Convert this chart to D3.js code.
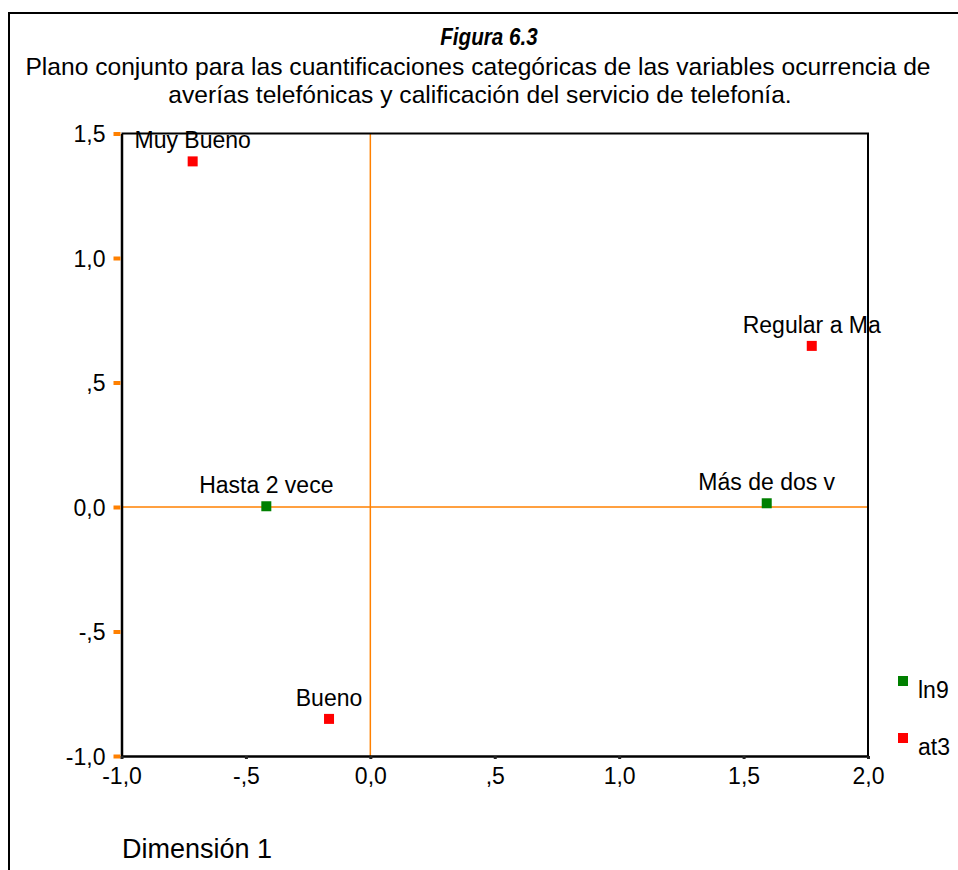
<!DOCTYPE html>
<html><head><meta charset="utf-8">
<script src="https://cdn.jsdelivr.net/npm/d3@7"></script>
<style>body{margin:0;background:#fff}svg{display:block}text{font-family:"Liberation Sans",Arial,sans-serif;fill:#000}</style>
</head><body>
<svg id="c" width="958" height="870"></svg>
<script>
const labels = ["Muy Bueno","Bueno","Regular a Ma","Hasta 2 vece","Más de dos v"];
const dim1 = [-0.714,-0.166,1.774,-0.418,1.593];
const dim2 = [1.388,-0.851,0.647,0.003,0.015];
const series = ["at3","at3","at3","ln9","ln9"];
const legendItems = ["ln9","at3"];
const xTicks = [-1.0,-0.5,0.0,0.5,1.0,1.5,2.0];
const yTicks = [-1.0,-0.5,0.0,0.5,1.0,1.5];
const colors = {ln9:"#008000", at3:"#ff0000"};

const svg = d3.select("#c");
const L=121.5, R=868, T=133.5, B=756;
const x = d3.scaleLinear().domain([-1,2]).range([L,R]);
const y = d3.scaleLinear().domain([-1,1.5]).range([B,T]);
const fmt = v => { let s = d3.format(".1f")(v).replace("\u2212","-").replace(".",","); if (s==="0,5") s=",5"; if (s==="-0,5") s="-,5"; return s; };
const FF = "Liberation Sans, Arial, sans-serif";

// outer frame
svg.append("rect").attr("x",9).attr("y",13).attr("width",1000).attr("height",1000).attr("fill","none").attr("stroke","#000").attr("stroke-width",2);

// titles
svg.append("text").attr("transform","translate(489,45) scale(0.86,1)").attr("text-anchor","middle").attr("font-size",24).attr("font-weight","bold").attr("font-style","italic").text("Figura 6.3");
svg.append("text").attr("x",478).attr("y",75).attr("text-anchor","middle").attr("font-size",24.6).text("Plano conjunto para las cuantificaciones categóricas de las variables ocurrencia de");
svg.append("text").attr("x",480).attr("y",103).attr("text-anchor","middle").attr("font-size",24.6).text("averías telefónicas y calificación del servicio de telefonía.");

// reference lines
svg.append("line").attr("x1",x(0)).attr("x2",x(0)).attr("y1",T).attr("y2",B).attr("stroke","#ff8000").attr("stroke-width",1.5);
svg.append("line").attr("x1",L).attr("x2",R).attr("y1",y(0)).attr("y2",y(0)).attr("stroke","#ff8000").attr("stroke-width",1.5);

// box top/right
svg.append("path").attr("d",`M${L},${T}H${R}V${B}`).attr("fill","none").attr("stroke","#000").attr("stroke-width",2);

// y axis
const yAxis = d3.axisLeft(y).tickValues(yTicks).tickFormat(fmt).tickSize(0).tickPadding(16);
const gy = svg.append("g").attr("transform",`translate(${L},0)`).call(yAxis);
gy.select(".domain").attr("stroke","#000").attr("stroke-width",2.5);
gy.selectAll("text").attr("font-size",23).attr("dy","0.35em").style("font-family",FF);
gy.selectAll(".tick").append("rect").attr("x",-8).attr("y",-2).attr("width",7).attr("height",4).attr("fill","#ff8000");

// x axis
const xAxis = d3.axisBottom(x).tickValues(xTicks).tickFormat(fmt).tickSize(0).tickPadding(12);
const gx = svg.append("g").attr("transform",`translate(0,${B})`).call(xAxis);
gx.select(".domain").attr("stroke","#000").attr("stroke-width",2.5);
gx.selectAll("text").attr("font-size",23).attr("dy","0.71em").style("font-family",FF);
gx.selectAll(".tick").append("rect").attr("x",-1.5).attr("y",0).attr("width",3).attr("height",3).attr("fill","#222");

// points
const pts = labels.map((l,i)=>({l, x:dim1[i], y:dim2[i], s:series[i]}));
svg.selectAll("rect.pt").data(pts).join("rect").attr("class","pt")
  .attr("x",d=>x(d.x)-5).attr("y",d=>y(d.y)-5).attr("width",10).attr("height",10)
  .attr("fill",d=>colors[d.s]);
svg.selectAll("text.lbl").data(pts).join("text").attr("class","lbl")
  .attr("x",d=>x(d.x)).attr("y",d=>y(d.y)-13).attr("text-anchor","middle").attr("font-size",23).text(d=>d.l);

// legend
const lg = svg.selectAll("g.lg").data(legendItems).join("g").attr("class","lg")
  .attr("transform",(d,i)=>`translate(898,${681+i*57})`);
lg.append("rect").attr("x",0).attr("y",-5).attr("width",10).attr("height",10).attr("fill",d=>colors[d]);
lg.append("text").attr("x",20).attr("y",17).attr("font-size",23).text(d=>d);

// axis title
svg.append("text").attr("x",122).attr("y",858).attr("font-size",27).text("Dimensión 1");
</script>
</body></html>
